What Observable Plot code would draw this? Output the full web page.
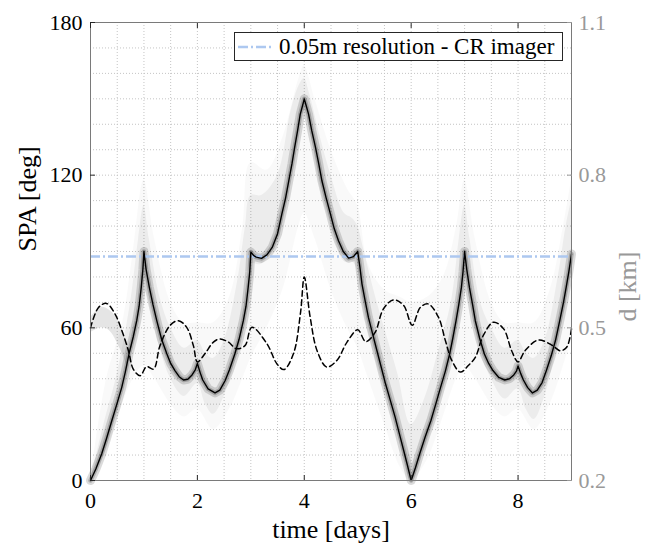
<!DOCTYPE html>
<html><head><meta charset="utf-8">
<script src="https://cdn.jsdelivr.net/npm/d3@7"></script>
<script src="https://cdn.jsdelivr.net/npm/@observablehq/plot@0.6"></script>
<style>
body{margin:0;background:#fff;}
#wrap{position:relative;width:650px;height:547px;font-family:"Liberation Serif",serif;}
#legend{position:absolute;left:234px;top:32px;width:327px;height:27px;border:1px solid #262626;background:#fff;display:flex;align-items:center;font-size:23px;color:#000;white-space:nowrap;}
#legend svg{margin:0 5px 0 3px;}
</style></head><body><div id="wrap"></div>
<script>
// ---- data ----
const xTicks = [0, 2, 4, 6, 8];
const yTicks = [0, 60, 120, 180];
const dTickLabels = ["0.2", "0.5", "0.8", "1.1"];
const dDomain = [0.2, 1.1];
const resolutionDeg = 88;
const legendLabel = "0.05m resolution - CR imager";

// nominal SPA [deg]
const spaTime = [0,0.1,0.21,0.3,0.4,0.5,0.585,0.65,0.72,0.8,0.865,0.91,0.95,0.98,1.0,
 1.04,1.1,1.17,1.24,1.33,1.43,1.5,1.58,1.66,1.74,1.82,1.9,1.96,2.0,2.05,2.1,2.2,2.33,2.42,2.52,2.6,2.7,2.78,2.86,2.91,2.95,2.98,3.0,
 3.05,3.1,3.2,3.3,3.4,3.5,3.58,3.65,3.71,3.77,3.82,3.875,3.925,3.97,4.0,
 4.04,4.08,4.14,4.21,4.27,4.33,4.41,4.49,4.56,4.64,4.73,4.83,4.92,5.0,
 5.04,5.08,5.14,5.2,5.28,5.36,5.44,5.52,5.61,5.7,5.78,5.86,5.93,6.0,
 6.08,6.16,6.26,6.37,6.46,6.55,6.64,6.72,6.78,6.84,6.89,6.94,6.97,7.0,
 7.04,7.09,7.15,7.2,7.28,7.37,7.45,7.53,7.64,7.75,7.84,7.92,7.97,8.0,8.05,8.1,8.18,8.27,8.36,8.45,8.53,8.62,8.7,8.78,8.85,8.9,8.95,9.0];
const spaDeg = [0,4.5,10.5,16.5,23.6,30.5,36.6,42.5,49.7,56.5,62.8,68.5,76,83,90,
 83,76,69,62.8,55.5,49.7,46,43.2,40.8,39.5,39.8,41.5,43.5,46,42.5,39.5,36,34.4,35.5,39.3,43.5,49.7,55.5,62.8,68.5,75.9,82,89.8,
 88.5,87.8,87.3,88.7,91.6,97,104.7,111,117.8,124.5,130.9,137.5,144,147.5,150,
 147,144,137.5,130.9,124.5,117.8,111,104.7,99,94.2,90,87.4,88,90,
 84,77.2,70.5,64.1,57.5,51,44.5,38,31.5,24.9,18.3,11.8,6,0,
 5,10.5,17,23.6,30,36.6,43,49.7,56,62.8,69,75.9,82,90,
 83,75.9,69,62.8,56,49.7,46,43.2,40.5,39.5,40,41.5,43,45,42,39.5,36.5,34.4,35.5,38.5,43.2,49,55,62.8,70,75.9,82,89];

// nominal distance d [km]
const dTime = [0,0.15,0.3,0.46,0.585,0.71,0.8,0.93,1.05,1.18,1.3,1.49,1.645,1.8,1.925,2.0,2.14,2.3,2.42,2.58,2.73,2.89,3.02,
 3.3,3.49,3.62,3.8,3.93,4.0,4.11,4.24,4.42,4.61,4.8,5.0,5.15,5.32,5.48,5.67,5.86,6.02,6.17,6.32,6.51,6.64,6.76,6.92,7.07,7.2,
 7.35,7.54,7.73,7.88,8.0,8.13,8.38,8.63,8.79,8.91,9.0];
const dKm = [0.5,0.54,0.548,0.527,0.495,0.455,0.419,0.406,0.424,0.419,0.465,0.505,0.514,0.501,0.465,0.433,0.449,0.472,0.478,0.472,0.459,0.465,0.501,
 0.469,0.429,0.418,0.45,0.53,0.6,0.521,0.455,0.423,0.436,0.472,0.496,0.473,0.49,0.537,0.555,0.544,0.505,0.54,0.547,0.521,0.475,0.436,0.413,0.426,0.442,
 0.485,0.511,0.498,0.455,0.433,0.455,0.476,0.466,0.455,0.462,0.498];

// Monte Carlo spread: outer faint envelope [deg]
const cloudTime = [0,0.3,0.6,0.8,1.0,1.2,1.5,1.75,2.0,2.3,2.6,2.85,3.0,3.3,3.6,3.9,4.0,4.2,4.5,4.8,5.0,5.2,5.5,5.8,6.0,6.3,6.6,6.85,7.0,7.2,7.5,7.75,8.0,8.3,8.6,8.85,9.0];
const cloudLo = [0,12,30,40,45,40,30,25,28,20,28,40,48,60,75,100,105,95,75,60,52,40,22,5,0,8,25,40,45,40,30,25,28,20,30,45,55];
const cloudHi = [0,40,62,90,118,95,70,62,62,62,72,100,125,122,135,158,163,150,130,115,108,85,75,72,70,72,80,100,118,95,70,62,62,62,75,100,118];

// Monte Carlo spread: denser band [deg]
const bandTime = [0,0.25,0.5,0.75,0.9,1.0,1.1,1.3,1.5,1.75,2.0,2.15,2.3,2.5,2.75,2.9,3.0,3.2,3.5,3.75,3.9,4.0,4.1,4.3,4.5,4.75,4.9,5.0,5.1,5.3,5.5,5.75,6.0,
 6.25,6.5,6.75,6.9,7.0,7.1,7.3,7.5,7.75,8.0,8.15,8.3,8.5,8.75,8.9,9.0];
const bandLo = [0,10,28,50,65,80,70,52,40,33,38,30,26,33,50,66,85,85,95,120,138,145,138,115,100,86,86,82,68,50,36,18,0,
 12,28,48,66,80,70,50,40,32,36,28,24,33,55,70,82];
const bandHi = [0,22,42,70,95,108,95,72,60,52,55,50,48,55,78,100,112,112,120,145,155,158,152,135,120,105,103,100,92,75,60,42,22,
 32,50,70,95,108,95,70,60,52,55,50,48,55,80,100,110];

// Monte Carlo spread of d near start [km]
const dBandTime = [0,0.2,0.35,0.55,0.7];
const dBandLo = [0.49,0.5,0.495,0.46,0.42];
const dBandHi = [0.52,0.54,0.535,0.51,0.46];

// ---- build ----
const dToDeg = d3.scaleLinear(dDomain, [yTicks[0], yTicks[yTicks.length - 1]]);
const spa = spaTime.map((t, i) => ({t, v: spaDeg[i]}));
const dist = dTime.map((t, i) => ({t, v: dToDeg(dKm[i])}));
const cloud = cloudTime.map((t, i) => ({t, lo: cloudLo[i], hi: cloudHi[i]}));
const band = bandTime.map((t, i) => ({t, lo: bandLo[i], hi: bandHi[i]}));
const dBand = dBandTime.map((t, i) => ({t, lo: dToDeg(dBandLo[i]), hi: dToDeg(dBandHi[i])}));

const font = "Liberation Serif, Times New Roman, serif";
const axisColor = "#262626";
const rightColor = "#999999";

const chart = Plot.plot({
  width: 650, height: 547,
  marginLeft: 90, marginRight: 79, marginTop: 22, marginBottom: 67,
  x: {domain: [0, 9]},
  y: {domain: [0, 180]},
  style: {fontFamily: font, fontSize: "22px", color: "#000", background: "#fff"},
  marks: [
    Plot.gridX(d3.range(0.5, 8.9, 0.5), {stroke: "#c4c4c4", strokeOpacity: 1, strokeDasharray: "1,2"}),
    Plot.gridY(d3.range(10, 179, 10), {stroke: "#c4c4c4", strokeOpacity: 1, strokeDasharray: "1,2"}),
    Plot.areaY(cloud, {x: "t", y1: "lo", y2: "hi", fill: "#000", fillOpacity: 0.025, curve: "catmull-rom"}),
    Plot.areaY(band, {x: "t", y1: "lo", y2: "hi", fill: "#000", fillOpacity: 0.05, curve: "catmull-rom"}),
    Plot.areaY(dBand, {x: "t", y1: "lo", y2: "hi", fill: "#000", fillOpacity: 0.1, curve: "catmull-rom"}),
    Plot.line(spa, {x: "t", y: "v", stroke: "#000", strokeOpacity: 0.14, strokeWidth: 9}),
    Plot.line(spa, {x: "t", y: "v", stroke: "#000", strokeOpacity: 0.2, strokeWidth: 4.5}),
    Plot.ruleY([resolutionDeg], {stroke: "#adc8f0", strokeWidth: 2.5, strokeDasharray: "10,3,2,3"}),
    Plot.line(dist, {x: "t", y: "v", stroke: "#000", strokeWidth: 1.5, strokeDasharray: "5.5,3.5", curve: "catmull-rom"}),
    Plot.line(spa, {x: "t", y: "v", stroke: "#000", strokeWidth: 1.4}),
    Plot.frame({stroke: "#7a7a7a"}),
    Plot.axisX(xTicks, {anchor: "bottom", tickSize: -5, tickPadding: 17, color: axisColor, fill: "#000", label: null}),
    Plot.axisX(xTicks, {anchor: "top", tickSize: -5, tickFormat: () => "", color: axisColor, label: null}),
    Plot.axisY(yTicks, {anchor: "left", tickSize: -5, tickPadding: 13, color: axisColor, fill: "#000", label: null}),
    Plot.axisY(yTicks, {anchor: "right", tickSize: -5, tickPadding: 12, color: rightColor,
      tickFormat: d => dTickLabels[yTicks.indexOf(d)], label: null}),
    Plot.text(["time [days]"], {frameAnchor: "bottom", dy: 57, fontSize: 26, fill: "#000"}),
    Plot.text(["SPA [deg]"], {frameAnchor: "left", dx: -63, rotate: -90, fontSize: 26, fill: "#000"}),
    Plot.text(["d [km]"], {frameAnchor: "right", dx: 56, rotate: -90, fontSize: 26, fill: rightColor})
  ]
});

const wrap = document.getElementById("wrap");
wrap.appendChild(chart);
const legend = document.createElement("div");
legend.id = "legend";
legend.innerHTML = `<svg width="36" height="10"><line x1="0" y1="5" x2="36" y2="5" stroke="#adc8f0" stroke-width="2.5" stroke-dasharray="10,3,2,3"/></svg><span></span>`;
legend.querySelector("span").textContent = legendLabel;
wrap.appendChild(legend);
</script>
</body></html>
